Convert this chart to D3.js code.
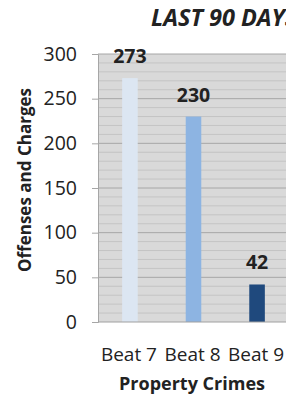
<!DOCTYPE html>
<html>
<head>
<meta charset="utf-8">
<script src="https://cdn.jsdelivr.net/npm/d3@7"></script>
<style>
  body { margin: 0; background: #fff; overflow: hidden; }
  text { font-family: "Open Sans", sans-serif; fill: #222; }
</style>
</head>
<body>
<div id="chart"></div>
<script>
// Chart data
const beats = ["Beat 7", "Beat 8", "Beat 9"];
const counts = [273, 230, 42];
const barColors = ["#dce6f2", "#8db4e2", "#1f497d"];
const yTicks = [0, 50, 100, 150, 200, 250, 300];

const W = 286, H = 399;
const margin = { top: 54, right: -3, bottom: 77, left: 98 };
const width = W - margin.left - margin.right;
const height = H - margin.top - margin.bottom;

const svg = d3.select("#chart")
    .append("svg")
    .attr("width", W)
    .attr("height", H);

const g = svg.append("g")
    .attr("transform", "translate(" + margin.left + "," + margin.top + ")");

// Scales
const x = d3.scaleBand()
    .domain(beats)
    .range([0, width])
    .paddingInner(0.755)
    .paddingOuter(0.38);

const y = d3.scaleLinear()
    .domain([0, 300])
    .range([height, 0]);

// Plot background
g.append("rect")
    .attr("width", width)
    .attr("height", height)
    .attr("fill", "#d9d9d9");

// Minor gridlines every 10
g.selectAll(".minor")
    .data(d3.range(10, 300, 10).filter(v => v % 50 !== 0))
    .enter().append("line")
    .attr("x1", 0).attr("x2", width)
    .attr("y1", d => y(d)).attr("y2", d => y(d))
    .attr("stroke", "#c4c4c4")
    .attr("stroke-width", 1);

// Major gridlines
g.selectAll(".major")
    .data(yTicks.slice(1))
    .enter().append("line")
    .attr("x1", 0).attr("x2", width)
    .attr("y1", d => y(d)).attr("y2", d => y(d))
    .attr("stroke", "#a6a6a6")
    .attr("stroke-width", 1);

// Y axis
const yAxis = g.append("g")
    .call(d3.axisLeft(y).tickValues(yTicks).tickSize(6).tickPadding(15));
yAxis.select(".domain").attr("stroke", "#a6a6a6");
yAxis.selectAll(".tick line").attr("stroke", "#a6a6a6");
yAxis.selectAll("text")
    .style("font-family", "Open Sans, sans-serif")
    .style("font-size", "19.5px")
    .attr("fill", "#222");

// Bars
g.selectAll(".bar")
    .data(counts)
    .enter().append("rect")
    .attr("x", (d, i) => x(beats[i]))
    .attr("y", d => y(d))
    .attr("width", x.bandwidth())
    .attr("height", d => height - y(d))
    .attr("fill", (d, i) => barColors[i]);

// bottom axis line
g.append("line")
    .attr("x1", 0).attr("x2", width)
    .attr("y1", height).attr("y2", height)
    .attr("stroke", "#a0a0a0");

// Value labels
g.selectAll(".val")
    .data(counts)
    .enter().append("text")
    .attr("x", (d, i) => x(beats[i]) + x.bandwidth() / 2)
    .attr("y", d => y(d) - 15)
    .attr("text-anchor", "middle")
    .style("font-size", "19.5px")
    .style("font-weight", "bold")
    .text(d => d);

// Category labels
g.selectAll(".cat")
    .data(beats)
    .enter().append("text")
    .attr("x", d => x(d) + x.bandwidth() / 2 - 1)
    .attr("y", height + 39)
    .attr("text-anchor", "middle")
    .style("font-size", "19px")
    .text(d => d);

// X axis title
svg.append("text")
    .attr("x", 192)
    .attr("y", 390)
    .attr("text-anchor", "middle")
    .style("font-size", "18px")
    .style("font-weight", "bold")
    .text("Property Crimes");

// Y axis title
svg.append("text")
    .attr("transform", "translate(31,180) rotate(-90)")
    .attr("text-anchor", "middle")
    .style("font-size", "17px")
    .style("font-weight", "bold")
    .text("Offenses and Charges");

// Chart title
svg.append("text")
    .attr("x", 151)
    .attr("y", 26)
    .style("font-size", "23.5px")
    .style("font-weight", "bold")
    .style("font-style", "italic")
    .text("LAST 90 DAYS");
</script>
</body>
</html>
